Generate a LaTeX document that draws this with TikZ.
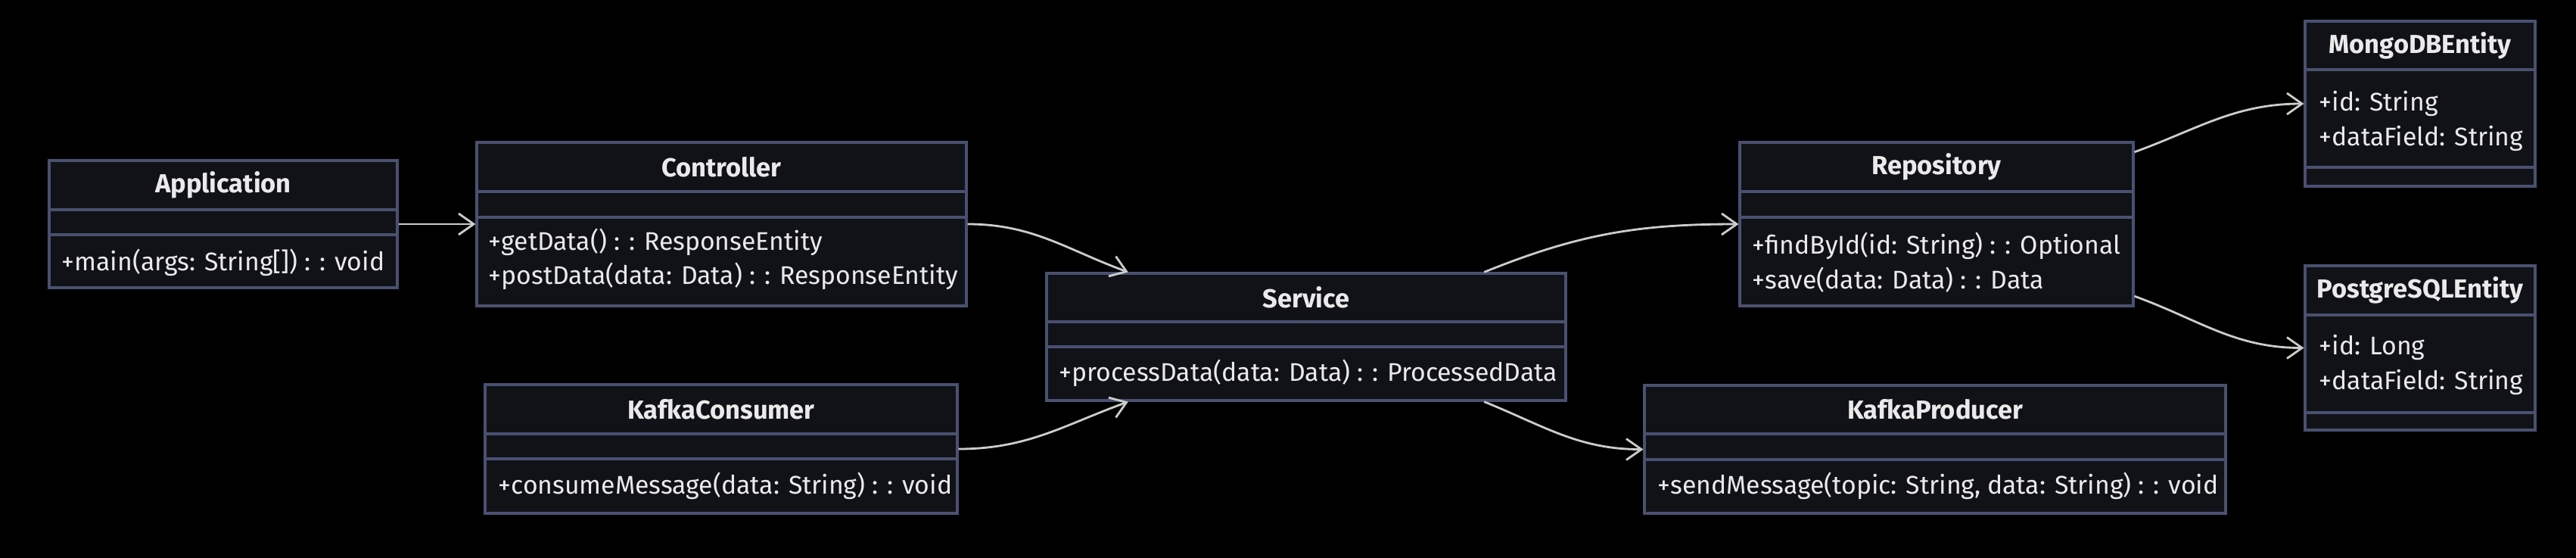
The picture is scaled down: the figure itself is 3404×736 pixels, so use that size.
\documentclass[tikz,border=0pt]{standalone}
\usepackage{fontspec}
\setmainfont{Fira Sans}
\usetikzlibrary{arrows.meta,fit}

\definecolor{boxfill}{HTML}{111217}
\definecolor{boxedge}{HTML}{4A5070}
\definecolor{textfg}{HTML}{EAEAEA}
\definecolor{linefg}{HTML}{CCCCCC}

\tikzset{
  classbox/.style={draw=boxedge, fill=boxfill, line width=0.9pt, inner sep=0pt},
  classline/.style={draw=boxedge, line width=0.9pt},
  classname/.style={text=textfg, font=\bfseries\fontsize{9.8}{11}\selectfont},
  member/.style={text=textfg, anchor=west, inner sep=0pt, font=\fontsize{9.6}{11}\selectfont},
  rel/.style={draw=linefg, line width=0.8pt, -{Straight Barb[length=2mm,width=2.8mm]}},
}

% name, left, top, right, bottom, header line, second line, title
\newcommand{\umlclass}[8]{%
  \node[classbox, fit={(#2,#3) (#4,#5)}] (#1) {};
  \draw[classline] (#2,#6) -- (#4,#6);
  \draw[classline] (#2,#7) -- (#4,#7);
  \node[classname] (#1-name) at ({(#2+#4)/2},{(#3+#6)/2}) {#8};
}

\begin{document}
\begin{tikzpicture}[x=0.01cm, y=-0.01cm]
\useasboundingbox (0,0) rectangle (3404,736);
\fill[black] (-10,-10) rectangle (3414,746);

% classes
\umlclass{app}{65}{212}{525}{380}{277}{310}{Application}
\umlclass{ctrl}{630}{188}{1277}{404}{253}{287}{Controller}
\umlclass{svc}{1383}{361}{2069}{529}{425}{458}{Service}
\umlclass{cons}{641}{508}{1265}{678}{573}{606}{KafkaConsumer}
\umlclass{repo}{2299}{188}{2819}{404}{253}{287}{Repository}
\umlclass{prod}{2173}{509}{2941}{678}{573}{607}{KafkaProducer}
\umlclass{mongo}{3046}{28}{3350}{246}{92}{221}{MongoDBEntity}
\umlclass{pg}{3046}{351}{3350}{568}{416}{545}{PostgreSQLEntity}

% members
\node[member] (app-m1) at (81,347) {+main(args: String[]) : : void};
\node[member] (ctrl-m1) at (645,320) {+getData() : : ResponseEntity};
\node[member] (ctrl-m2) at (645,365) {+postData(data: Data) : : ResponseEntity};
\node[member] (svc-m1) at (1399,493) {+processData(data: Data) : : ProcessedData};
\node[member] (cons-m1) at (658,642) {+consumeMessage(data: String) : : void};
\node[member] (repo-m1) at (2315,325) {+findById(id: String) : : Optional};
\node[member] (repo-m2) at (2315,370) {+save(data: Data) : : Data};
\node[member] (prod-m1) at (2190,642) {+sendMessage(topic: String, data: String) : : void};
\node[member] (mongo-a1) at (3064,137) {+id: String};
\node[member] (mongo-a2) at (3064,183) {+dataField: String};
\node[member] (pg-a1) at (3064,459) {+id: Long};
\node[member] (pg-a2) at (3064,505) {+dataField: String};

% relations
\draw[rel] (app.east) -- (ctrl.west);
\draw[rel] (ctrl.east) to[out=0, in=160] (svc.160);
\draw[rel] (cons.east) to[out=0, in=200] (svc.200);
\draw[rel] (svc.20) to[out=22, in=180] (repo.west);
\draw[rel] (svc.-20) to[out=-22, in=180] (prod.west);
\draw[rel] (repo.20) to[out=20, in=180] (mongo.west);
\draw[rel] (repo.-20) to[out=-20, in=180] (pg.west);
\end{tikzpicture}
\end{document}
